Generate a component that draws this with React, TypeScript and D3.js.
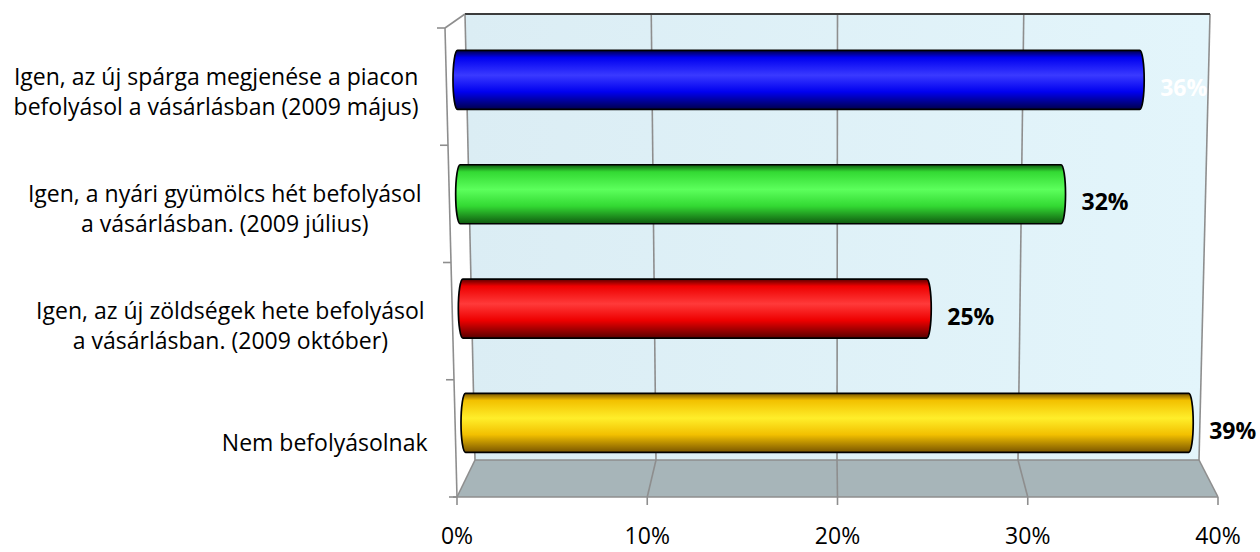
import React from "react";
import * as d3 from "d3";

// Survey answers (category labels split into their display lines)
const categoryLines: string[][] = [
  ["Igen, az új spárga megjenése a piacon", "befolyásol a vásárlásban (2009 május)"],
  ["Igen, a nyári gyümölcs hét befolyásol", "a vásárlásban. (2009 július)"],
  ["Igen, az új zöldségek hete befolyásol", "a vásárlásban. (2009 október)"],
  ["Nem befolyásolnak"],
];
const categoryIds = ["spárga", "gyümölcs", "zöldség", "nem"];
const values = [0.36, 0.32, 0.25, 0.39];
const barColors = [
  { dark: "#00004a", base: "#0000f0", light: "#3a3aff" },
  { dark: "#0f5a0f", base: "#33d933", light: "#5cff5c" },
  { dark: "#5a0000", base: "#ee0000", light: "#ff3a3a" },
  { dark: "#7a5500", base: "#f2c000", light: "#ffee2a" },
];
const valueLabelColors = ["#ffffff", "#000000", "#000000", "#000000"];
const tickValues = [0, 0.1, 0.2, 0.3, 0.4];

const W = 1260;
const H = 552;
const FONT = "'Open Sans', 'Noto Sans', sans-serif";
const CAT_SIZE = 23;
const VAL_SIZE = 23;

// Box geometry (a slightly perspective 3D plot area)
const backTop = 14;
const backBottom = 460;
const frontY = 497;
const axisTopY = 28;

const xFront = d3.scaleLinear().domain([0, 0.4]).range([457, 1218]);
const xBackTop = d3.scaleLinear().domain([0, 0.4]).range([465, 1210]);
const xBackBottom = d3.scaleLinear().domain([0, 0.4]).range([475, 1199]);
// bar planes for the first and last series row; rows in between interpolate
const xBarFirst = d3.scaleLinear().domain([0, 0.4]).range([453, 1221]);
const xBarLast = d3.scaleLinear().domain([0, 0.4]).range([461, 1212]);

const yBar = d3
  .scaleBand<string>()
  .domain(categoryIds)
  .range([22.8, 480])
  .paddingInner(0.484)
  .paddingOuter(0.242);
const yCat = d3.scaleBand<string>().domain(categoryIds).range([axisTopY, frontY]);

// front-left axis line from (445, 28) to (457, 497)
const axisX = d3.scaleLinear().domain([axisTopY, frontY]).range([445, 457]);

let measureCtx: CanvasRenderingContext2D | null = null;
function measure(text: string, font: string) {
  if (!measureCtx) measureCtx = document.createElement("canvas").getContext("2d");
  if (!measureCtx) return text.length * 10;
  measureCtx.font = font;
  return measureCtx.measureText(text).width;
}

function barScale(i: number) {
  const t = i / (categoryIds.length - 1);
  const r0 = d3.interpolateNumber(xBarFirst.range()[0], xBarLast.range()[0])(t);
  const r1 = d3.interpolateNumber(xBarFirst.range()[1], xBarLast.range()[1])(t);
  return d3.scaleLinear().domain([0, 0.4]).range([r0, r1]);
}

// horizontal cylinder body with rounded (elliptic) ends
function cylinderPath(x0: number, x1: number, y0: number, y1: number, rx: number) {
  const ry = (y1 - y0) / 2;
  return (
    `M${x0 + rx},${y0} L${x1 - rx},${y0} ` +
    `A${rx},${ry} 0 0 1 ${x1 - rx},${y1} ` +
    `L${x0 + rx},${y1} ` +
    `A${rx},${ry} 0 0 1 ${x0 + rx},${y0} Z`
  );
}

export default function App() {
  const wallPts = [
    [xBackTop(0), backTop],
    [xBackTop(0.4), backTop],
    [xBackBottom(0.4), backBottom],
    [xBackBottom(0), backBottom],
  ];
  const floorPts = [
    [xBackBottom(0), backBottom],
    [xBackBottom(0.4), backBottom],
    [xFront(0.4), frontY],
    [xFront(0), frontY],
  ];
  const line = d3.line();
  const gridColor = "#8e8e8e";
  const catFont = `${CAT_SIZE}px ${FONT}`;

  return (
    <svg
      width={W}
      height={H}
      viewBox={`0 0 ${W} ${H}`}
      style={{ position: "absolute", left: 0, top: 0, background: "#ffffff" }}
    >
      <defs>
        <linearGradient id="wallGrad" x1="0" y1="0" x2="1" y2="0">
          <stop offset="0" stopColor="#dbedf4" />
          <stop offset="1" stopColor="#e3f5fb" />
        </linearGradient>
        {barColors.map((c, i) => (
          <linearGradient key={i} id={`barGrad${i}`} x1="0" y1="0" x2="0" y2="1">
            <stop offset="0" stopColor={c.dark} />
            <stop offset="0.12" stopColor={c.base} />
            <stop offset="0.42" stopColor={c.light} />
            <stop offset="0.7" stopColor={c.base} />
            <stop offset="1" stopColor={c.dark} />
          </linearGradient>
        ))}
      </defs>

      {/* back wall */}
      <path d={line(wallPts as [number, number][]) + "Z"} fill="url(#wallGrad)" stroke="none" />
      {/* floor */}
      <path d={line(floorPts as [number, number][]) + "Z"} fill="#a7b5b9" stroke="none" />

      {/* gridlines on wall and floor */}
      {tickValues.map((v) => (
        <g key={v} stroke={gridColor} strokeWidth={1.6} fill="none">
          <line x1={xBackTop(v)} y1={backTop} x2={xBackBottom(v)} y2={backBottom} />
          <line x1={xBackBottom(v)} y1={backBottom} x2={xFront(v)} y2={frontY} />
        </g>
      ))}
      <line x1={xBackBottom(0)} y1={backBottom} x2={xBackBottom(0.4)} y2={backBottom} stroke={gridColor} strokeWidth={1.4} />

      {/* top edge of the back wall */}
      <line x1={xBackTop(0)} y1={backTop} x2={xBackTop(0.4)} y2={backTop} stroke="#3c3c3c" strokeWidth={1.8} />
      {/* left side: front axis line and its link to the back wall */}
      <line x1={axisX(axisTopY)} y1={axisTopY} x2={xBackTop(0)} y2={backTop} stroke={gridColor} strokeWidth={1.6} />
      <line x1={axisX(axisTopY)} y1={axisTopY} x2={axisX(frontY)} y2={frontY} stroke={gridColor} strokeWidth={1.6} />
      {[...categoryIds.map((id) => yCat(id) as number), frontY].map((y, i) => (
        <line key={i} x1={axisX(y) - 8} y1={y} x2={axisX(y)} y2={y} stroke={gridColor} strokeWidth={1.6} />
      ))}

      {/* bottom value axis */}
      <line x1={xFront(0) - 4} y1={frontY} x2={xFront(0.4)} y2={frontY} stroke={gridColor} strokeWidth={1.6} />
      {tickValues.map((v) => (
        <g key={v}>
          <line x1={xFront(v)} y1={frontY} x2={xFront(v)} y2={frontY + 8} stroke={gridColor} strokeWidth={1.6} />
          <text
            x={xFront(v)}
            y={544}
            textAnchor="middle"
            fontFamily={FONT}
            fontSize={CAT_SIZE}
            fill="#000"
          >
            {d3.format(".0%")(v)}
          </text>
        </g>
      ))}

      {/* cylinders */}
      {categoryIds.map((id, i) => {
        const xs = barScale(i);
        const y0 = yBar(id) as number;
        const y1 = y0 + yBar.bandwidth();
        const x0 = xs(0);
        const x1 = xs(values[i]);
        const rx = 4.5;
        return (
          <g key={id}>
            <path
              d={cylinderPath(x0, x1, y0, y1, rx)}
              fill={`url(#barGrad${i})`}
              stroke="#000"
              strokeWidth={1.7}
            />
            <text
              x={x1 + 16}
              y={(y0 + y1) / 2 + 7}
              dominantBaseline="central"
              fontFamily={FONT}
              fontWeight="bold"
              fontSize={VAL_SIZE}
              fill={valueLabelColors[i]}
            >
              {d3.format(".0%")(values[i])}
            </text>
          </g>
        );
      })}

      {/* category labels: block right-aligned along the axis, lines centred within it */}
      {categoryIds.map((id, i) => {
        const lines = categoryLines[i];
        const maxW = d3.max(lines, (l) => measure(l, catFont)) ?? 0;
        const cy = (yCat(id) as number) + yCat.bandwidth() / 2 + 4;
        const cx = axisX(cy) - 28 - maxW / 2;
        const lh = 30;
        return (
          <g key={id}>
            {lines.map((l, k) => (
              <text
                key={k}
                x={cx}
                y={cy + (k - (lines.length - 1) / 2) * lh}
                textAnchor="middle"
                dominantBaseline="central"
                fontFamily={FONT}
                fontSize={CAT_SIZE}
                fill="#000"
              >
                {l}
              </text>
            ))}
          </g>
        );
      })}
    </svg>
  );
}
